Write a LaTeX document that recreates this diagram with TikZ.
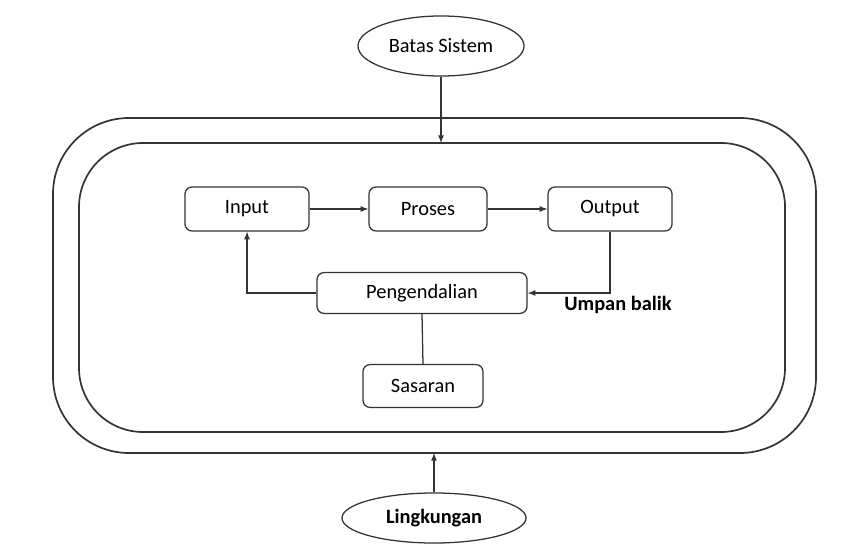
\documentclass[tikz,border=0pt]{standalone}
\usepackage{fontspec}
\setmainfont{Carlito}
\usetikzlibrary{shapes.geometric}
\tikzset{
    kotak/.style={draw=black!80, line width=0.9pt, rounded corners=5pt, minimum width=3.1cm, minimum height=1.1cm},
    elips/.style={ellipse, draw=black!80, line width=0.9pt, inner sep=0pt},
    garis/.style={draw=black!80, line width=0.9pt},
    panah/.style={draw=black!80, line width=0.9pt, -latex}
}
\begin{document}
\begin{tikzpicture}[x=0.025cm, y=-0.025cm, font=\fontsize{14.5}{17}\selectfont]
        \useasboundingbox (0,0) rectangle (866,550);
        % batas sistem dan lingkungan
        \draw[garis, line width=1.2pt, rounded corners=1.9cm] (53,118) rectangle (816,453);
        \draw[garis, line width=1.2pt, rounded corners=1.6cm] (79,143) rectangle (785,432);
        \coordinate (luar) at (434,453);
        \coordinate (dalam) at (441,143);
        \node[elips, minimum width=4.15cm, minimum height=1.5cm] (batas) at (441,46) {Batas Sistem};
        \node[elips, minimum width=4.6cm, minimum height=1.25cm] (lingkungan) at (434,518) {\bfseries Lingkungan};
        \draw[panah] (batas) -- (dalam);
        \draw[panah] (lingkungan) -- (luar);
        % komponen sistem
        \node[kotak] (input) at (247,209) {Input};
        \node[kotak, minimum width=2.95cm] (proses) at (428,209) {Proses};
        \node[kotak] (output) at (610,209) {Output};
        \node[kotak, minimum width=5.25cm, minimum height=1.02cm] (kendali) at (422,293) {Pengendalian};
        \node[kotak, minimum width=3cm, minimum height=1.07cm] (sasaran) at (423,386) {Sasaran};
        \node[font=\fontsize{14.5}{17}\selectfont\bfseries] (umpan) at (618,305) {Umpan balik};
        \draw[panah] (input) -- (proses);
        \draw[panah] (proses) -- (output);
        \draw[panah] (output.south) |- (kendali.east);
        \draw[panah] (kendali.west) -| (input.south);
        \draw[garis] (kendali.south) -- (sasaran.north);
    \end{tikzpicture}
\end{document}
